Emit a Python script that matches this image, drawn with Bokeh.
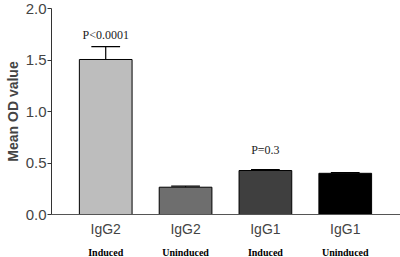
from bokeh.plotting import figure
from bokeh.models import ColumnDataSource, LinearAxis, FixedTicker, Range1d, NumeralTickFormatter, Title
from bokeh.layouts import column
from bokeh.core.properties import value
from bokeh.embed import file_html
from bokeh.resources import INLINE

groups = ["IgG2", "IgG2", "IgG1", "IgG1"]
conditions = ["Induced", "Uninduced", "Induced", "Uninduced"]
means = [1.505, 0.265, 0.427, 0.400]
err_top = [1.630, 0.275, 0.435, 0.407]
colors = ["#bdbdbd", "#6e6e6e", "#3f3f3f", "#000000"]
pvalue_text = ["P<0.0001", "P=0.3"]
pvalue_x = [0, 2]
pvalue_y = [1.74, 0.63]
y_ticks = [0.0, 0.5, 1.0, 1.5, 2.0]
y_title = "Mean OD value"

xs = list(range(len(means)))
src = ColumnDataSource(dict(x=xs, top=means, et=err_top, color=colors,
                            cl=[x - 0.18 for x in xs], cr=[x + 0.18 for x in xs]))

xr = Range1d(-0.679, 3.692)
p = figure(width=400, height=240, output_backend="svg", toolbar_location=None,
           x_range=xr, y_range=Range1d(0, 2.0),
           min_border_left=0, min_border_right=0, min_border_top=8, min_border_bottom=26,
           x_axis_location=None, y_axis_location=None)
p.background_fill_color = "white"
p.border_fill_color = "white"
p.outline_line_color = None
p.grid.visible = False

# error bars (upper only)
p.segment(x0="x", y0="top", x1="x", y1="et", source=src, line_color="black", line_width=1.2)
p.segment(x0="cl", y0="et", x1="cr", y1="et", source=src, line_color="black", line_width=1.2)
p.vbar(x="x", top="top", bottom=0, width=0.66, source=src, fill_color="color",
       line_color="black", line_width=1)

# p-value labels
ps = ColumnDataSource(dict(x=pvalue_x, y=pvalue_y, t=pvalue_text))
p.text(x="x", y="y", text="t", source=ps, text_align="center", text_baseline="middle",
       text_font=value("Liberation Serif"), text_font_size="12px", text_color="#222222")

# y axis
ya = LinearAxis(ticker=FixedTicker(ticks=y_ticks), formatter=NumeralTickFormatter(format="0.0"))
ya.major_label_text_font = "Liberation Sans"
ya.major_label_text_font_size = "15px"
ya.major_label_standoff = 1
ya.major_tick_out = 4
ya.major_tick_in = 0
ya.minor_tick_out = 0
ya.minor_tick_in = 0
ya.minor_tick_line_color = None
ya.axis_line_color = "#333333"
ya.major_tick_line_color = "#333333"
p.add_layout(ya, "left")

t = Title(text=y_title, align="center", offset=11, text_font="Liberation Sans",
          text_font_style="bold", text_font_size="14px", standoff=4)
p.add_layout(t, "left")

# x axis (group labels)
xa = LinearAxis(ticker=FixedTicker(ticks=xs),
                major_label_overrides={i: g for i, g in zip(xs, groups)})
xa.major_tick_line_color = None
xa.minor_tick_line_color = None
xa.major_tick_out = 0
xa.major_tick_in = 0
xa.minor_tick_out = 0
xa.minor_tick_in = 0
xa.major_label_standoff = 6
xa.major_label_text_font = "Liberation Sans"
xa.major_label_text_font_size = "14px"
xa.axis_line_color = "#555555"
xa.axis_line_width = 1.2
p.add_layout(xa, "below")

# second row of labels (condition) in a thin strip below
q = figure(width=400, height=17, output_backend="svg", toolbar_location=None,
           x_range=xr, y_range=Range1d(0, 1),
           min_border_left=49, min_border_right=0, min_border_top=0, min_border_bottom=0,
           x_axis_location=None, y_axis_location=None)
q.outline_line_color = None
q.grid.visible = False
q.background_fill_color = "white"
q.border_fill_color = "white"
cs = ColumnDataSource(dict(x=xs, y=[0.3] * len(xs), t=conditions))
q.text(x="x", y="y", text="t", source=cs, text_align="center", text_baseline="middle",
       text_font=value("Liberation Serif"), text_font_style="bold", text_font_size="10px",
       text_color="black")

layout = column(p, q, spacing=0)
open("out.html", "w").write(file_html(layout, INLINE))
